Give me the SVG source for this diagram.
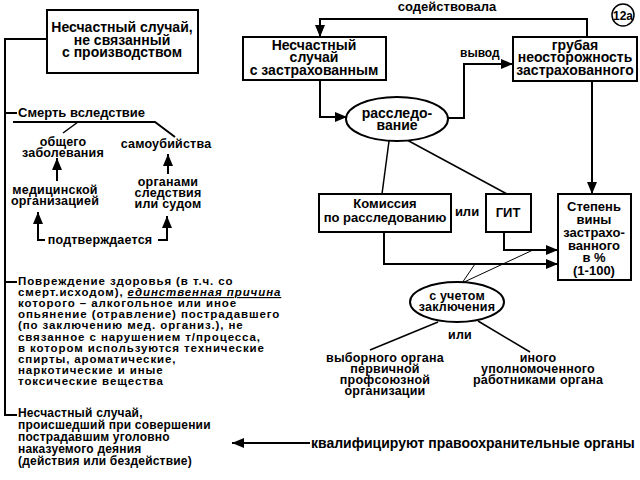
<svg xmlns="http://www.w3.org/2000/svg" width="640" height="480" viewBox="0 0 640 480">
<defs>
<style>
text{font-family:"Liberation Sans",Arial,sans-serif;font-weight:bold;fill:#000}
.c{text-anchor:middle}
.box{fill:#fff;stroke:#000;stroke-width:2}
.ln{fill:none;stroke:#000;stroke-width:2}
.thin{fill:none;stroke:#000;stroke-width:1}
.f14{font-size:14px}
.f13{font-size:13px}
.s{font-size:12.5px;letter-spacing:0.2px}
.f12{font-size:12px}
.p{font-size:11.5px;letter-spacing:0.9px}
</style>
<marker id="ah" markerUnits="userSpaceOnUse" markerWidth="12" markerHeight="10" refX="12" refY="5" orient="auto">
<path d="M0,0 L12,5 L0,10 Z" fill="#000"/>
</marker>
</defs>
<rect width="640" height="480" fill="#fff"/>

<g id="connectors">
<path class="ln" d="M47,39 H5 V415 H17"/>
<path class="ln" d="M5,113 H17"/>
<path class="ln" d="M5,282 H17"/>
<path class="ln" d="M13,122 H155 L175,137"/>
<path class="ln" d="M78,122 L63,133" style="stroke-width:1.5"/>
<path class="ln" d="M57,181 V158" marker-end="url(#ah)"/>
<path class="ln" d="M168,174 V154" marker-end="url(#ah)"/>
<path class="ln" d="M45,240 H38 V212" marker-end="url(#ah)"/>
<path class="ln" d="M158,240 H167 V216" marker-end="url(#ah)"/>
<path class="ln" d="M310,443 H232" marker-end="url(#ah)"/>
<path class="ln" d="M587,37 V19 H320 V37" marker-end="url(#ah)"/>
<path class="ln" d="M320,80 V117 H347" marker-end="url(#ah)"/>
<path class="ln" d="M448,118 H464 V64 H513" marker-end="url(#ah)"/>
<path class="ln" d="M592,81 V194" marker-end="url(#ah)"/>
<path class="ln" d="M389,141 L382,194" style="stroke-width:1.5"/>
<path class="ln" d="M407,140 L507,194" style="stroke-width:1.5"/>
<path class="ln" d="M504,232 V250 H558" marker-end="url(#ah)"/>
<path class="ln" d="M384,232 V264 H558" marker-end="url(#ah)"/>
<path class="thin" d="M475,264 L462,283 L533,250"/>
<path class="ln" d="M438,322 L370,350" style="stroke-width:1.5"/>
<path class="ln" d="M478,321 L530,352" style="stroke-width:1.5"/>
</g>

<g id="node-left-box">
<rect class="box" x="47" y="10" width="151" height="63"/>
<text class="c f14" x="122" y="32">Несчастный случай,</text>
<text class="c f14" x="122" y="45">не связанный</text>
<text class="c f14" x="122" y="57">с производством</text>
</g>

<g id="node-smert">
<text class="f13" x="18" y="117">Смерть вследствие</text>
</g>
<g id="node-obshchego">
<text class="c s" x="63" y="146">общего</text>
<text class="c s" x="63" y="157">заболевания</text>
</g>
<g id="node-samoubiystva">
<text class="c s" x="166" y="148">самоубийства</text>
</g>
<g id="node-med">
<text class="c s" x="55" y="194">медицинской</text>
<text class="c s" x="55" y="205">организацией</text>
</g>
<g id="node-organy-sledstviya">
<text class="c s" x="168" y="186">органами</text>
<text class="c s" x="168" y="197">следствия</text>
<text class="c s" x="168" y="208">или судом</text>
</g>
<g id="node-podtverzhdaetsya">
<text class="c s" x="100" y="244">подтверждается</text>
</g>

<g id="node-povrezhdenie">
<text class="p" x="18" y="285">Повреждение здоровья (в т.ч. со</text>
<text class="p" x="18" y="296">смерт.исходом), <tspan font-style="italic" text-decoration="underline">единственная причина</tspan></text>
<text class="p" x="18" y="307">которого – алкогольное или иное</text>
<text class="p" x="18" y="318">опьянение (отравление) пострадавшего</text>
<text class="p" x="18" y="329">(по заключению мед. организ.), не</text>
<text class="p" x="18" y="341">связанное с нарушением т/процесса,</text>
<text class="p" x="18" y="352">в котором используются технические</text>
<text class="p" x="18" y="363">спирты, ароматические,</text>
<text class="p" x="18" y="374">наркотические и иные</text>
<text class="p" x="18" y="385">токсические вещества</text>
</g>

<g id="node-crime">
<text class="f12" x="18" y="417" letter-spacing="0.2">Несчастный случай,</text>
<text class="f12" x="18" y="429" letter-spacing="0.2">происшедший при совершении</text>
<text class="f12" x="18" y="441" letter-spacing="0.2">пострадавшим уголовно</text>
<text class="f12" x="18" y="453" letter-spacing="0.2">наказуемого деяния</text>
<text class="f12" x="18" y="465" letter-spacing="0.2">(действия или бездействие)</text>
</g>

<g id="node-kvalif">
<text class="f14" x="311" y="448">квалифицируют правоохранительные органы</text>
</g>

<g id="node-sodeistvovala">
<text class="c f13" x="447" y="11">содействовала</text>
</g>

<g id="node-12a">
<circle cx="623" cy="15" r="11" fill="#fff" stroke="#000" stroke-width="1.5"/>
<text class="c f12" x="623" y="19.5">12а</text>
</g>

<g id="node-case">
<rect class="box" x="243" y="37" width="143" height="43"/>
<text class="c f14" x="314" y="50">Несчастный</text>
<text class="c f14" x="314" y="62">случай</text>
<text class="c f14" x="314" y="75">с застрахованным</text>
</g>

<g id="node-grubaya">
<rect class="box" x="513" y="37" width="124" height="44"/>
<text class="c f14" x="575" y="50">грубая</text>
<text class="c f14" x="575" y="62">неосторожность</text>
<text class="c f14" x="575" y="75">застрахованного</text>
</g>

<g id="node-vyvod">
<text class="f12" x="460" y="57">вывод</text>
</g>

<g id="node-rassledovanie">
<ellipse cx="397" cy="119" rx="51" ry="22" fill="#fff" stroke="#000" stroke-width="2"/>
<text class="c f14" x="397" y="118">расследо-</text>
<text class="c f14" x="397" y="130">вание</text>
</g>

<g id="node-commission">
<rect class="box" x="319" y="194" width="132" height="38"/>
<text class="c f13" x="385" y="208">Комиссия</text>
<text class="c f13" x="385" y="222">по расследованию</text>
</g>

<g id="node-ili1">
<text class="c f13" x="467" y="216">или</text>
</g>

<g id="node-git">
<rect class="box" x="486" y="194" width="45" height="38"/>
<text class="c f13" x="508" y="217">ГИТ</text>
</g>

<g id="node-stepen">
<rect class="box" x="558" y="194" width="73" height="86"/>
<text class="c f13" x="594" y="211">Степень</text>
<text class="c f13" x="594" y="224">вины</text>
<text class="c f13" x="594" y="237">застрахо-</text>
<text class="c f13" x="594" y="250">ванного</text>
<text class="c f13" x="594" y="262">в %</text>
<text class="c f13" x="594" y="275">(1-100)</text>
</g>

<g id="node-uchetom">
<ellipse cx="457" cy="302" rx="47" ry="20" fill="#fff" stroke="#000" stroke-width="2"/>
<text class="c s" x="457" y="300">с учетом</text>
<text class="c s" x="457" y="311">заключения</text>
</g>

<g id="node-ili2">
<text class="c s" x="460" y="339">или</text>
</g>

<g id="node-vybornogo">
<text class="c s" x="385" y="362">выборного органа</text>
<text class="c s" x="385" y="373">первичной</text>
<text class="c s" x="385" y="384">профсоюзной</text>
<text class="c s" x="385" y="395">организации</text>
</g>

<g id="node-inogo">
<text class="c s" x="538" y="362">иного</text>
<text class="c s" x="538" y="373">уполномоченного</text>
<text class="c s" x="538" y="384">работниками органа</text>
</g>
</svg>
